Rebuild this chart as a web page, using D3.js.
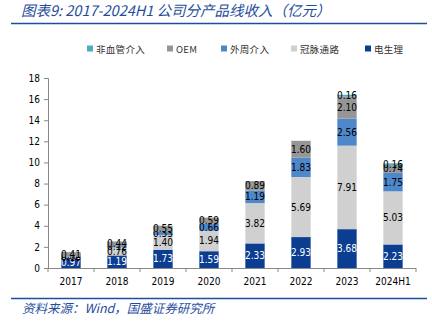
<!DOCTYPE html>
<html>
<head>
<meta charset="utf-8">
<script src="https://cdn.jsdelivr.net/npm/d3@7"></script>
<style>
  body{margin:0;background:#fff;}
  svg{display:block;}
</style>
</head>
<body>
<div id="chart"></div>
<script>
var years=['2017','2018','2019','2020','2021','2022','2023','2024H1'];
var dianshengli=[0.97,1.19,1.73,1.59,2.33,2.93,3.68,2.23];
var guanmai=[0.10,0.76,1.40,1.94,3.82,5.69,7.91,5.03];
var waizhou=[0.02,0.12,0.33,0.66,1.19,1.83,2.56,1.75];
var oem=[0.41,0.44,0.55,0.59,0.89,1.60,2.10,0.74];
var feixueguan=[0,0,0,0,0,0,0.16,0.16];
var yTicks=[0,2,4,6,8,10,12,14,16,18];

// stacking order bottom -> top
var series=[
  {name:'电生理',vals:dianshengli,color:'#0b3d91',text:'#fff'},
  {name:'冠脉通路',vals:guanmai,color:'#d0d0d0',text:'#000'},
  {name:'外周介入',vals:waizhou,color:'#4f87cb',text:'#000'},
  {name:'OEM',vals:oem,color:'#969696',text:'#000'},
  {name:'非血管介入',vals:feixueguan,color:'#4bacc6',text:'#000'}
];
var legendOrder=[4,3,2,1,0];

var width=432,height=330;
var svg=d3.select('#chart').append('svg')
  .attr('width',width)
  .attr('height',height);

var blue='#1f4e9c';
var cjk='"Noto Sans CJK SC", sans-serif';
var num='"DejaVu Sans Condensed", "DejaVu Sans", sans-serif';

// title
svg.append('text')
  .attr('x',21).attr('y',16)
  .attr('fill',blue)
  .attr('font-family',cjk)
  .attr('font-style','italic')
  .attr('font-size','14.5px')
  .text('图表9:  2017-2024H1 公司分产品线收入（亿元）');
svg.append('line')
  .attr('x1',11).attr('x2',427).attr('y1',23.5).attr('y2',23.5)
  .attr('stroke',blue).attr('stroke-width',1.5);

// legend
var legendX=[87,167,221,291,365];
legendOrder.forEach(function(si,i){
  var s=series[si];
  var g=svg.append('g').attr('transform','translate('+legendX[i]+',49)');
  g.append('rect').attr('x',0).attr('y',-3.5).attr('width',6).attr('height',6).attr('fill',s.color);
  g.append('text').attr('x',9).attr('y',4)
    .attr('font-family',cjk)
    .attr('font-size','9.5px')
    .attr('letter-spacing','0.3px')
    .attr('fill','#333')
    .text(s.name);
});

var x=d3.scaleBand().domain(years).range([48,416]).paddingInner(0.58).paddingOuter(0.29);
var y=d3.scaleLinear().domain([0,18]).range([268,78]);

// y axis
var yAxis=d3.axisLeft(y).tickValues(yTicks).tickSize(4).tickPadding(4);
var gy=svg.append('g').attr('transform','translate(48,0)').call(yAxis);
gy.selectAll('text').attr('font-family',num).attr('font-size','10px').attr('fill','#000');
gy.selectAll('line').attr('stroke','#888');
gy.select('.domain').attr('stroke','#888');

// x axis
var gx=svg.append('g').attr('transform','translate(0,268)');
gx.append('line').attr('x1',48).attr('x2',416).attr('y1',0.5).attr('y2',0.5).attr('stroke','#888');
var step=x.step();
for(var k=0;k<=years.length;k++){
  var tx=48+k*step;
  gx.append('line').attr('x1',tx).attr('x2',tx).attr('y1',0).attr('y2',4).attr('stroke','#888');
}
gx.selectAll('text.xl').data(years).enter().append('text')
  .attr('class','xl')
  .attr('x',function(d){return x(d)+x.bandwidth()/2;})
  .attr('y',17)
  .attr('text-anchor','middle')
  .attr('font-family',num)
  .attr('font-size','10px')
  .attr('fill','#000')
  .text(function(d){return d;});

// stacked bars
var table=years.map(function(yr,i){
  var row={year:yr};
  series.forEach(function(s){row[s.name]=s.vals[i];});
  return row;
});
var stack=d3.stack().keys(series.map(function(s){return s.name;}));
var layers=stack(table);

layers.forEach(function(layer,li){
  var s=series[li];
  var g=svg.append('g');
  g.selectAll('rect').data(layer).enter().append('rect')
    .attr('x',function(d){return x(d.data.year);})
    .attr('y',function(d){return y(d[1]);})
    .attr('width',x.bandwidth())
    .attr('height',function(d){return y(d[0])-y(d[1]);})
    .attr('fill',s.color);
  g.selectAll('text').data(layer.filter(function(d){return d[1]-d[0]>0;})).enter().append('text')
    .attr('x',function(d){return x(d.data.year)+x.bandwidth()/2;})
    .attr('y',function(d){return (y(d[0])+y(d[1]))/2+3.5;})
    .attr('text-anchor','middle')
    .attr('font-family',num)
    .attr('font-size','10px')
    .attr('fill',s.text)
    .text(function(d){return (d[1]-d[0]).toFixed(2);});
});

// source
svg.append('line')
  .attr('x1',11).attr('x2',427).attr('y1',298.5).attr('y2',298.5)
  .attr('stroke',blue).attr('stroke-width',1.5);
svg.append('text')
  .attr('x',22).attr('y',313)
  .attr('fill',blue)
  .attr('font-family',cjk)
  .attr('font-style','italic')
  .attr('font-size','12.5px')
  .text('资料来源：Wind，国盛证券研究所');
</script>
</body>
</html>
